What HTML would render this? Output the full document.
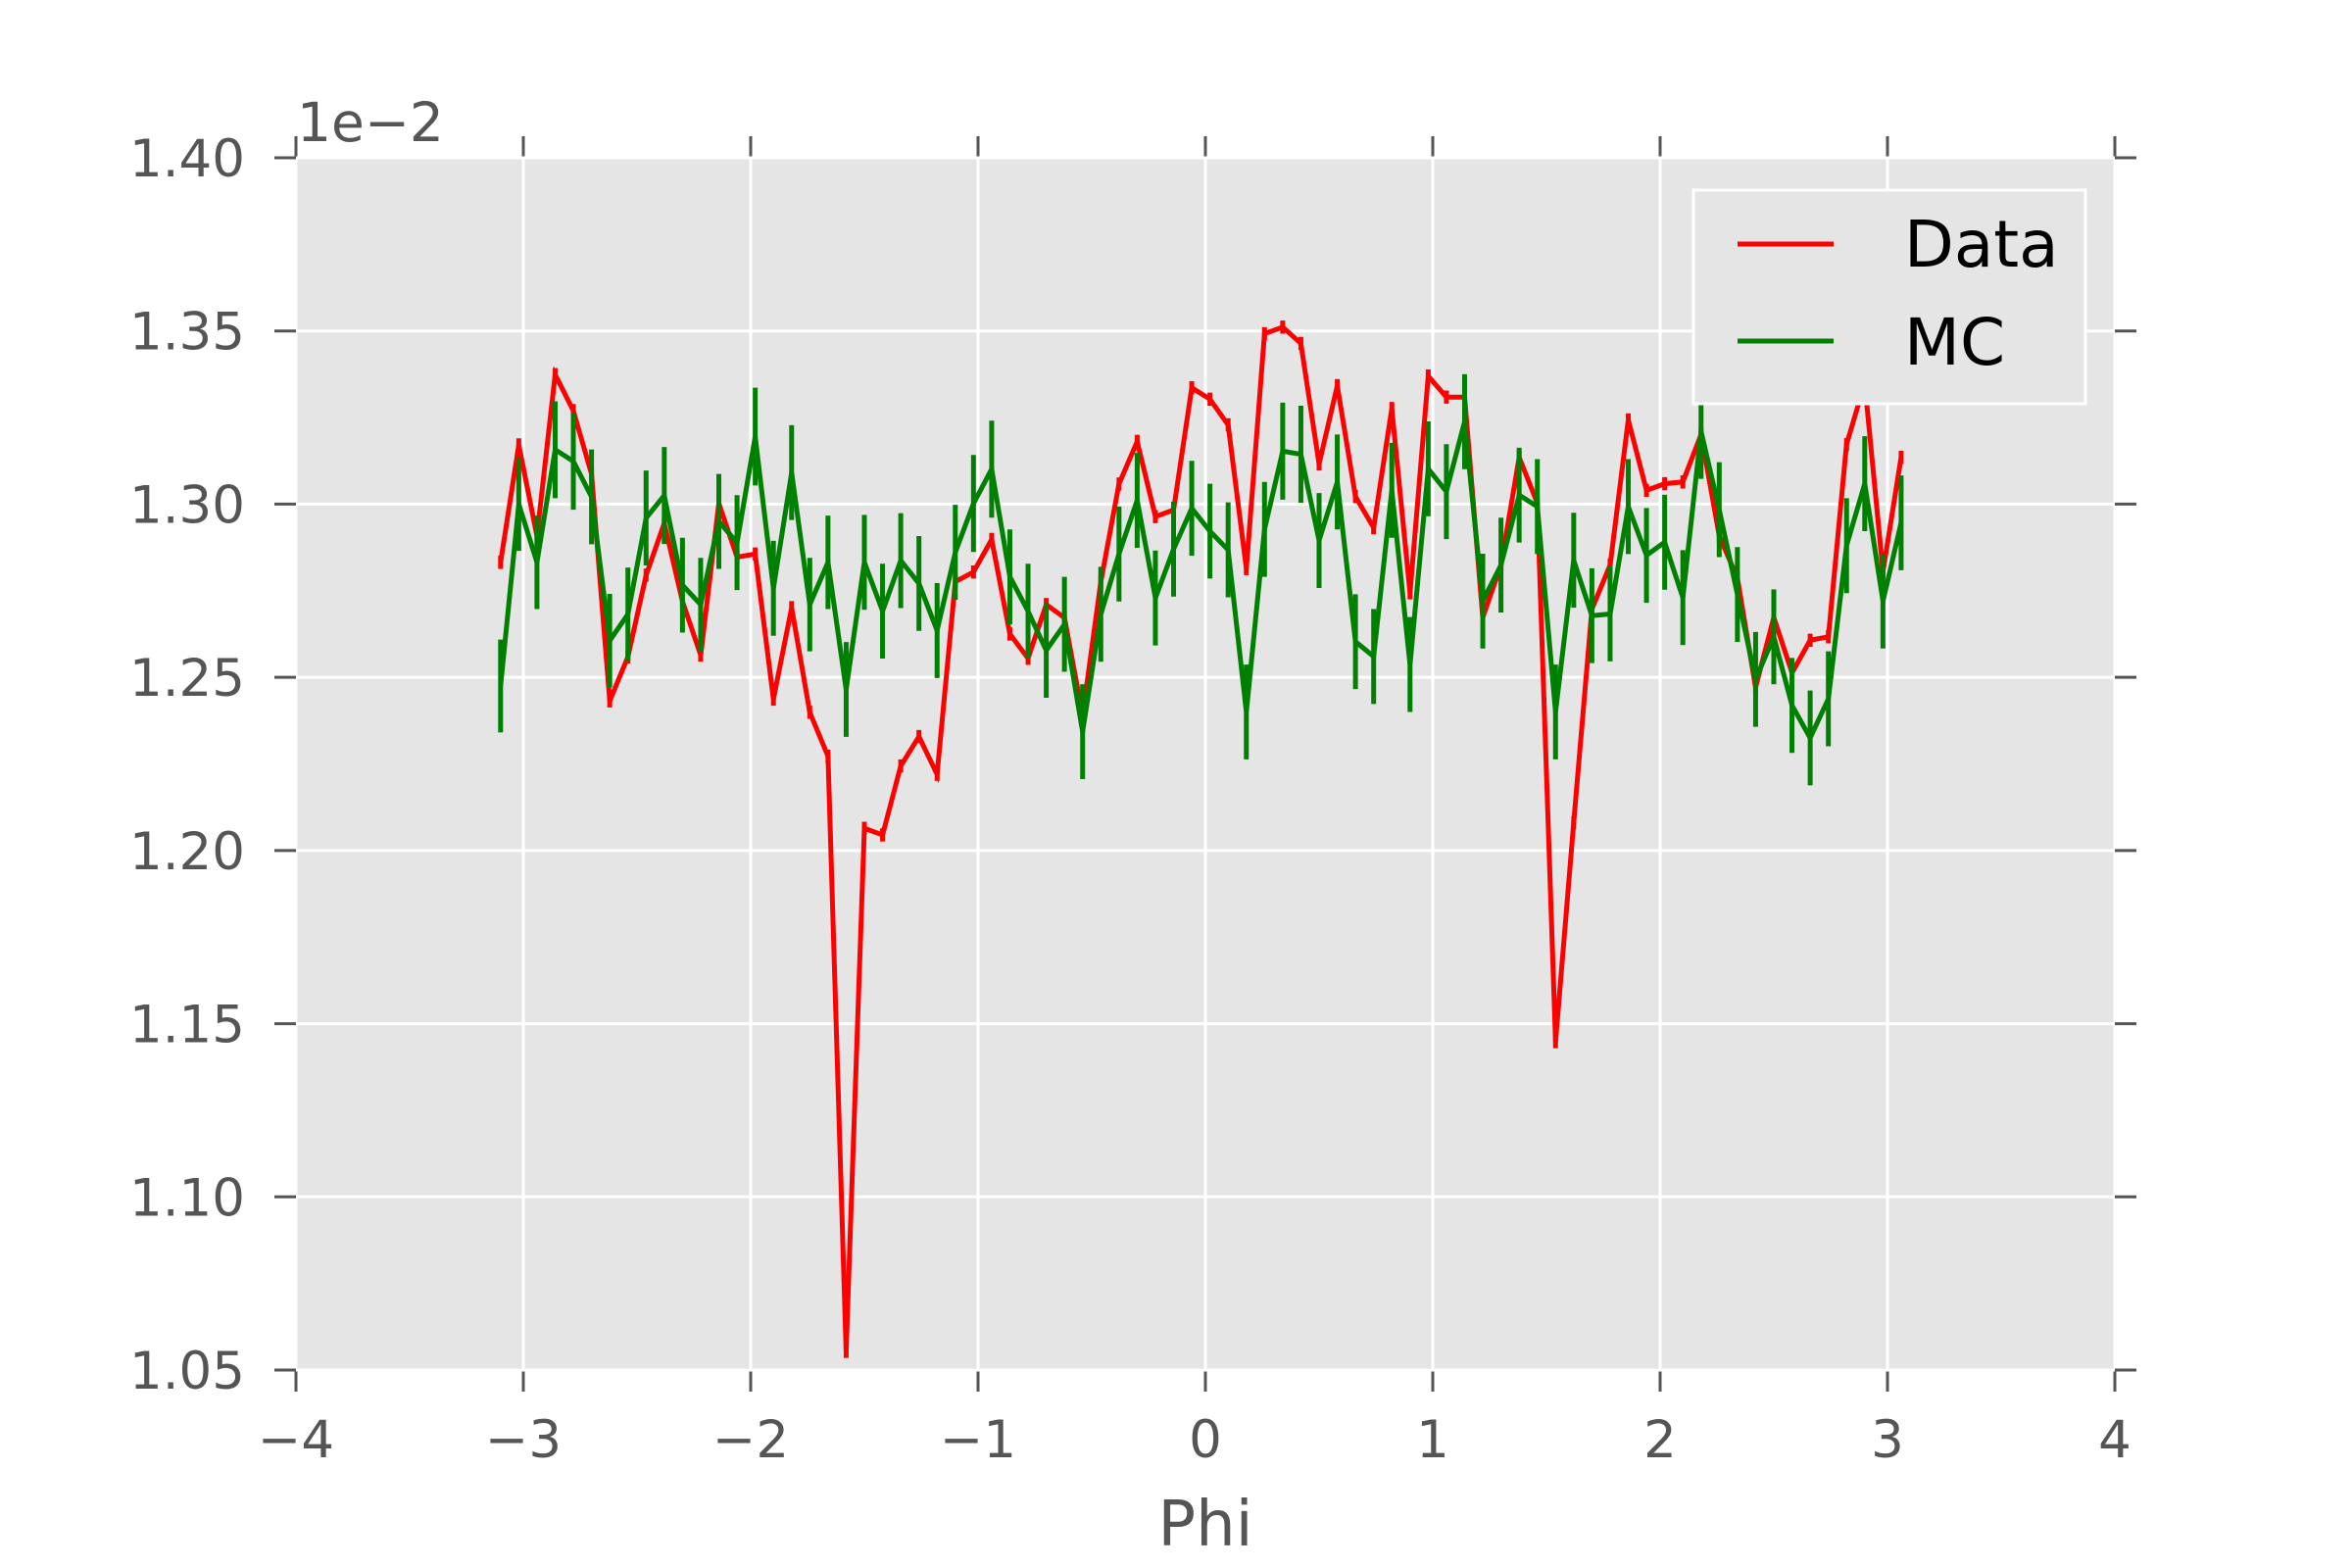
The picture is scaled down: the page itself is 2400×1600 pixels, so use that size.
<!DOCTYPE html>
<html><head><meta charset="utf-8"><style>
html,body{margin:0;padding:0;background:#fff;}
svg{display:block;font-family:"DejaVu Sans","Liberation Sans",sans-serif;}
</style></head><body>
<svg id="chart" width="2400" height="1600" viewBox="0 0 2400 1600" xmlns="http://www.w3.org/2000/svg">
<rect x="0" y="0" width="2400" height="1600" fill="#fff"/>
<g id="plot"></g>
</svg>
<script>
const phiValues = [-3.10,-3.02,-2.94,-2.86,-2.78,-2.70,-2.62,-2.54,-2.46,-2.38,-2.30,-2.22,-2.14,-2.06,-1.98,-1.90,-1.82,-1.74,-1.66,-1.58,-1.50,-1.42,-1.34,-1.26,-1.18,-1.10,-1.02,-0.94,-0.86,-0.78,-0.70,-0.62,-0.54,-0.46,-0.38,-0.30,-0.22,-0.14,-0.06,0.02,0.10,0.18,0.26,0.34,0.42,0.50,0.58,0.66,0.74,0.82,0.90,0.98,1.06,1.14,1.22,1.30,1.38,1.46,1.54,1.62,1.70,1.78,1.86,1.94,2.02,2.10,2.18,2.26,2.34,2.42,2.50,2.58,2.66,2.74,2.82,2.90,2.98,3.06];
const dataValues = [1.2832,1.3171,1.2908,1.3374,1.3270,1.3087,1.2432,1.2559,1.2795,1.2945,1.2719,1.2564,1.3002,1.2847,1.2856,1.2437,1.2701,1.2399,1.2272,1.0554,1.2064,1.2045,1.2244,1.2329,1.2220,1.2776,1.2804,1.2898,1.2625,1.2555,1.2710,1.2672,1.2390,1.2776,1.3058,1.3181,1.2964,1.2983,1.3336,1.3303,1.3229,1.2814,1.3492,1.3511,1.3464,1.3116,1.3342,1.3022,1.2932,1.3276,1.2744,1.3370,1.3309,1.3309,1.2673,1.2824,1.3135,1.3003,1.1448,1.2080,1.2697,1.2824,1.3243,1.3040,1.3059,1.3064,1.3201,1.2909,1.2786,1.2471,1.2673,1.2513,1.2607,1.2617,1.3172,1.3350,1.2805,1.3135];
const dataErrors = [0.0019,0.0019,0.0019,0.0019,0.0019,0.0019,0.0019,0.0019,0.0019,0.0019,0.0019,0.0019,0.0019,0.0019,0.0019,0.0019,0.0019,0.0019,0.0019,0.0019,0.0019,0.0019,0.0019,0.0019,0.0019,0.0019,0.0019,0.0019,0.0019,0.0019,0.0019,0.0019,0.0019,0.0019,0.0019,0.0019,0.0019,0.0019,0.0019,0.0019,0.0019,0.0019,0.0019,0.0019,0.0019,0.0019,0.0019,0.0019,0.0019,0.0019,0.0019,0.0019,0.0019,0.0019,0.0019,0.0019,0.0019,0.0019,0.0019,0.0019,0.0019,0.0019,0.0019,0.0019,0.0019,0.0019,0.0019,0.0019,0.0019,0.0019,0.0019,0.0019,0.0019,0.0019,0.0019,0.0019,0.0019,0.0019];
const mcValues = [1.2475,1.3000,1.2832,1.3157,1.3124,1.3021,1.2606,1.2682,1.2960,1.3025,1.2766,1.2710,1.2950,1.2889,1.3195,1.2757,1.3091,1.2710,1.2832,1.2465,1.2832,1.2691,1.2837,1.2771,1.2635,1.2861,1.3002,1.3101,1.2790,1.2691,1.2578,1.2653,1.2343,1.2682,1.2856,1.3011,1.2729,1.2870,1.2988,1.2922,1.2868,1.2400,1.2927,1.3153,1.3144,1.2895,1.3064,1.2603,1.2560,1.3040,1.2537,1.3102,1.3036,1.3238,1.2720,1.2824,1.3026,1.2993,1.2400,1.2838,1.2678,1.2683,1.2993,1.2852,1.2890,1.2730,1.3210,1.2984,1.2739,1.2494,1.2617,1.2419,1.2325,1.2438,1.2880,1.3059,1.2720,1.2946];
const mcErrors = [0.0134,0.0135,0.0135,0.0140,0.0140,0.0137,0.0135,0.0135,0.0137,0.0140,0.0137,0.0135,0.0137,0.0137,0.0141,0.0137,0.0137,0.0135,0.0135,0.0137,0.0137,0.0137,0.0137,0.0137,0.0137,0.0137,0.0140,0.0140,0.0137,0.0137,0.0137,0.0137,0.0137,0.0137,0.0137,0.0137,0.0137,0.0137,0.0137,0.0137,0.0137,0.0137,0.0137,0.0140,0.0140,0.0137,0.0137,0.0137,0.0137,0.0137,0.0137,0.0137,0.0137,0.0137,0.0137,0.0137,0.0137,0.0137,0.0137,0.0137,0.0137,0.0137,0.0137,0.0137,0.0137,0.0137,0.0137,0.0137,0.0137,0.0137,0.0137,0.0137,0.0137,0.0137,0.0137,0.0137,0.0137,0.0137];
const xTicks = [-4,-3,-2,-1,0,1,2,3,4];
const xTickLabels = ["\u22124","\u22123","\u22122","\u22121","0","1","2","3","4"];
const yTicks = [1.05,1.10,1.15,1.20,1.25,1.30,1.35,1.40];
const yTickLabels = ["1.05","1.10","1.15","1.20","1.25","1.30","1.35","1.40"];

const NS = "http://www.w3.org/2000/svg";
const L = 302, R = 2158, T = 161, B = 1398;
const xMin = -4, xMax = 4, yMin = 1.05, yMax = 1.40;
function xScale(v){ return L + (v - xMin) / (xMax - xMin) * (R - L); }
function yScale(v){ return B - (v - yMin) / (yMax - yMin) * (B - T); }
const g = document.getElementById('plot');
function mk(tag, attrs){ const e = document.createElementNS(NS, tag); for (const k in attrs) e.setAttribute(k, attrs[k]); g.appendChild(e); return e; }

let e = mk('rect', {x:L, y:T, width:R-L, height:B-T, fill:'#e5e5e5'});



xTicks.forEach((t, i) => {
  const x = xScale(t);
  let gl = mk('line', {x1:x, x2:x, y1:T, y2:B, stroke:'#fff', 'stroke-width':3});
  
  
  let tk = mk('line', {x1:x, x2:x, y1:B, y2:B+22, stroke:'#555', 'stroke-width':3});
  
  
  let tk2 = mk('line', {x1:x, x2:x, y1:T, y2:T-22, stroke:'#555', 'stroke-width':3});
  
  
  let lb = mk('text', {x:x, y:1487, 'text-anchor':'middle', 'font-size':53, fill:'#555'});
  lb.textContent = xTickLabels[i];
  
  
});
yTicks.forEach((t, i) => {
  const y = yScale(t);
  let gl = mk('line', {x1:L, x2:R, y1:y, y2:y, stroke:'#fff', 'stroke-width':3});
  
  
  let tk = mk('line', {x1:L-22, x2:L, y1:y, y2:y, stroke:'#555', 'stroke-width':3});
  
  
  let tk2 = mk('line', {x1:R, x2:R+22, y1:y, y2:y, stroke:'#555', 'stroke-width':3});
  
  
  let lb = mk('text', {x:250, y:y+19, 'text-anchor':'end', 'font-size':53, fill:'#555'});
  lb.textContent = yTickLabels[i];
  
  
});

function series(vals, errs, color, name){
  const pts = vals.map((v, i) => xScale(phiValues[i]).toFixed(1) + ',' + yScale(v).toFixed(1)).join(' ');
  let pl = mk('polyline', {points:pts, fill:'none', stroke:color, 'stroke-width':5, 'stroke-linejoin':'miter'});
  
  
  vals.forEach((v, i) => {
    const x = xScale(phiValues[i]);
    let eb = mk('line', {x1:x, x2:x, y1:yScale(v - errs[i]), y2:yScale(v + errs[i]), stroke:color, 'stroke-width':5});
    
    
  });
}
series(dataValues, dataErrors, '#ff0000', 'data');
series(mcValues, mcErrors, '#008000', 'mc');

let off = mk('text', {x:303, y:144, 'font-size':55, fill:'#555'});
off.textContent = '1e\u22122';


let xl = mk('text', {x:(L+R)/2, y:1577, 'text-anchor':'middle', 'font-size':64, fill:'#555'});
xl.textContent = 'Phi';



let lg = mk('rect', {x:1728, y:194, width:400, height:218, fill:'#e5e5e5', stroke:'#fff', 'stroke-width':3});


let l1 = mk('line', {x1:1773, x2:1871, y1:249, y2:249, stroke:'#ff0000', 'stroke-width':5});


let t1 = mk('text', {x:1943, y:272, 'font-size':66, fill:'#000'});
t1.textContent = 'Data';


let l2 = mk('line', {x1:1773, x2:1871, y1:348, y2:348, stroke:'#008000', 'stroke-width':5});


let t2 = mk('text', {x:1943, y:372, 'font-size':66, fill:'#000'});
t2.textContent = 'MC';


</script>
</body></html>
